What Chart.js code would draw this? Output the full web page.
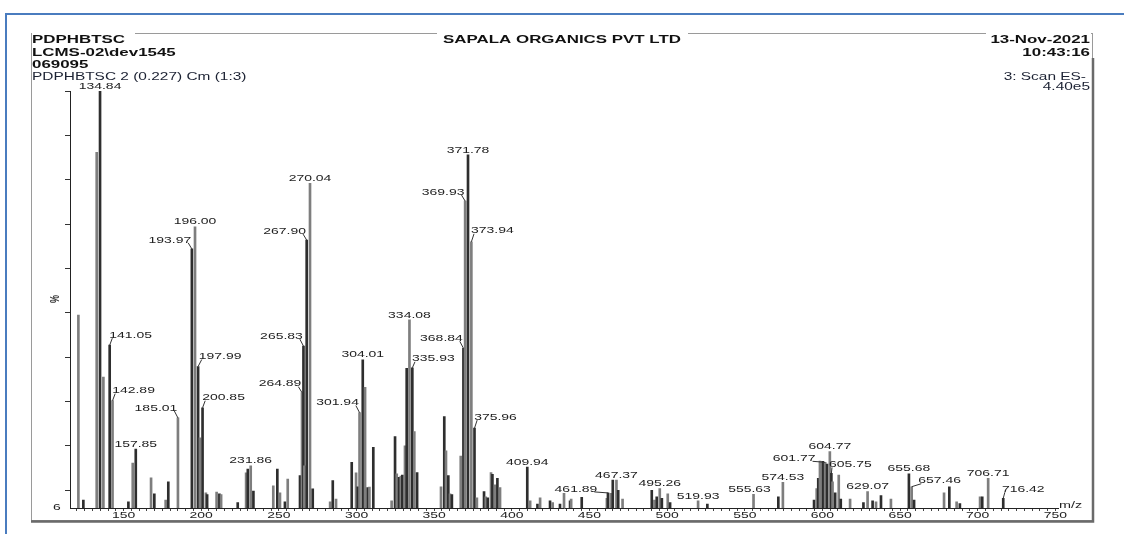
<!DOCTYPE html>
<html>
<head>
<meta charset="utf-8">
<script src="https://cdn.jsdelivr.net/npm/chart.js@4/dist/chart.umd.min.js"></script>
<style>
html, body { margin: 0; padding: 0; background: #fff; }
canvas { display: block; }
</style>
</head>
<body>
<canvas id="chart" width="1124" height="534"></canvas>
<script>
// spectrum peaks (m/z, % intensity)
var mzValues = [
    120.9, 124.1, 132.7, 134.84, 137.0, 141.05, 142.89, 153.1, 155.9, 157.85,
    167.7, 169.8, 177.1, 178.8, 185.01, 193.97, 196.00, 197.99, 199.2, 200.85,
    203.0, 203.8, 209.9, 211.7, 212.8, 223.5, 228.9, 230.0, 231.86, 233.6,
    246.4, 249.0, 250.7, 253.9, 255.7, 263.6, 264.89, 265.83, 266.4, 267.90,
    270.04, 271.8, 283.0, 284.7, 286.8, 296.9, 299.7, 300.8, 301.94, 304.01,
    305.5, 307.2, 308.3, 310.8, 322.6, 324.8, 325.9, 327.4, 328.5, 329.5,
    331.2, 332.3, 334.08, 335.93, 337.2, 339.0, 354.4, 356.5, 357.6, 359.1,
    360.2, 361.4, 367.1, 368.84, 369.93, 371.78, 373.94, 375.96, 377.5, 382.1,
    383.2, 384.5, 386.6, 387.5, 389.2, 390.7, 392.4, 409.94, 411.8, 416.5,
    418.2, 424.6, 426.3, 431.0, 433.6, 437.5, 438.2, 445.0, 461.2, 461.89,
    463.7, 465.0, 467.37, 468.5, 471.3, 490.1, 491.8, 493.3, 495.26, 496.6,
    500.4, 501.9, 519.93, 525.9, 555.63, 571.6, 574.53, 594.6, 596.3, 597.3,
    598.4, 600.2, 601.77, 603.0, 604.77, 605.75, 606.5, 608.2, 610.5, 611.8,
    617.8, 626.4, 629.07, 632.3, 634.5, 637.7, 644.1, 655.68, 657.46, 659.0,
    678.3, 681.7, 686.4, 688.5, 701.5, 702.9, 706.71, 716.42
];
var intensities = [
    49.5, 7.8, 86.2, 100, 35.5, 42.7, 30.2, 7.4, 16.1, 19.3,
    12.8, 9.2, 7.8, 11.9, 26.3, 64.4, 69.4, 37.9, 21.8, 28.6,
    9.4, 9.0, 9.6, 9.2, 9.0, 7.2, 13.9, 14.8, 15.5, 9.8,
    11.0, 14.8, 9.4, 7.4, 12.5, 13.3, 32.0, 42.5, 15.5, 66.4,
    79.2, 10.3, 7.4, 12.2, 8.0, 16.3, 13.9, 10.8, 27.5, 39.4,
    33.2, 10.6, 10.7, 19.7, 7.6, 22.1, 13.7, 12.9, 13.2, 13.4,
    20.0, 37.5, 48.4, 37.6, 23.2, 14.0, 10.8, 26.6, 18.9, 13.3,
    9.2, 9.0, 17.7, 42.0, 75.2, 85.6, 66.0, 24.0, 8.3, 9.7,
    8.5, 8.3, 14.0, 13.6, 11.2, 12.7, 10.6, 15.2, 7.6, 6.9,
    8.3, 7.6, 7.2, 6.9, 9.3, 7.6, 8.0, 8.4, 8.2, 9.4,
    9.3, 12.3, 12.3, 10.0, 8.0, 10.0, 7.8, 8.5, 10.4, 8.2,
    9.2, 7.2, 7.6, 6.9, 9.1, 8.5, 11.8, 7.8, 10.4, 12.7,
    16.6, 16.5, 16.3, 15.9, 18.7, 13.8, 11.9, 9.4, 13.4, 8.0,
    8.0, 7.2, 9.7, 7.6, 7.4, 8.8, 8.0, 13.7, 10.8, 7.8,
    9.4, 10.8, 7.4, 7.0, 8.5, 8.5, 12.7, 8.2
];
var labelledPeaks = [
    134.84, 141.05, 142.89, 157.85, 185.01, 193.97, 196.00, 197.99, 200.85, 231.86,
    264.89, 265.83, 267.90, 270.04, 301.94, 304.01, 334.08, 335.93, 368.84, 369.93,
    371.78, 373.94, 375.96, 409.94, 461.89, 467.37, 495.26, 519.93, 555.63, 574.53,
    601.77, 604.77, 605.75, 629.07, 655.68, 657.46, 706.71, 716.42
];
var xTickLabels = [150, 200, 250, 300, 350, 400, 450, 500, 550, 600, 650, 700, 750];
var yTickValues = [10, 20, 30, 40, 50, 60, 70, 80, 90, 100];
var headerLeft = ['PDPHBTSC', 'LCMS-02\\dev1545', '069095'];
var headerTitle = 'SAPALA ORGANICS PVT LTD';
var headerRight = ['13-Nov-2021', '10:43:16'];
var traceInfo = 'PDPHBTSC 2 (0.227) Cm (1:3)';
var scanInfo = ['3: Scan ES-', '4.40e5'];

// where each label sits relative to its peak top (text centre offset)
var labelOffsets = {
    '193.97': [-22, -9], '267.90': [-22, -9], '369.93': [-22, -9], '368.84': [-22, -10],
    '265.83': [-22, -10], '264.89': [-22, -9], '301.94': [-22, -10], '185.01': [-22, -10],
    '461.89': [-32, -4], '601.77': [-31, -4],
    '141.05': [21, -10], '142.89': [21, -10], '197.99': [22, -10], '200.85': [21, -10],
    '335.93': [21, -9], '373.94': [21, -11], '375.96': [21, -11], '605.75': [19, -9],
    '657.46': [28, -6], '716.42': [20, -9], '555.63': [-4, -5]
};

var SX = 1.47;
function wideText(ctx, txt, x, y, font, align, sx, color) {
    ctx.save();
    ctx.translate(x, y);
    ctx.scale(sx, 1);
    ctx.font = font;
    ctx.textAlign = align;
    ctx.textBaseline = 'middle';
    ctx.fillStyle = color || '#222';
    ctx.fillText(txt, 0, 0);
    ctx.restore();
}
function textWidth(ctx, txt, font, sx) {
    ctx.save();
    ctx.font = font;
    var w = ctx.measureText(txt).width * sx;
    ctx.restore();
    return w;
}

var framePlugin = {
    id: 'frame',
    beforeDraw: function (chart) {
        var ctx = chart.ctx;
        ctx.save();
        ctx.fillStyle = '#fff';
        ctx.fillRect(0, 0, chart.width, chart.height);
        // blue page frame
        ctx.strokeStyle = '#4a7cbf';
        ctx.lineWidth = 2;
        ctx.beginPath();
        ctx.moveTo(6, 534);
        ctx.lineTo(6, 14);
        ctx.lineTo(1124, 14);
        ctx.stroke();
        // grey plot box
        ctx.strokeStyle = '#9a9a9a';
        ctx.lineWidth = 1;
        ctx.strokeRect(31.5, 33.5, 1061, 487);
        ctx.strokeStyle = '#6a6a6a';
        ctx.lineWidth = 2.5;
        ctx.beginPath();
        ctx.moveTo(1093, 58);
        ctx.lineTo(1093, 521.5);
        ctx.lineTo(31, 521.5);
        ctx.stroke();
        // white backing behind header texts
        ctx.fillStyle = '#fff';
        ctx.fillRect(32, 30, 103, 8);
        ctx.fillRect(437, 30, 251, 8);
        ctx.fillRect(986, 30, 105, 8);
        ctx.restore();
    },
    afterDraw: function (chart) {
        var ctx = chart.ctx;
        var xs = chart.scales.x, ys = chart.scales.y;
        var bold = 'bold 11.5px "Liberation Sans", Arial, sans-serif';
        var norm = '10.5px "Liberation Sans", Arial, sans-serif';
        var rows = [40, 53, 64.5];
        headerLeft.forEach(function (t, i) {
            wideText(ctx, t, 32, rows[i], bold, 'left', SX, '#111');
        });
        wideText(ctx, headerTitle, 562, 40, bold, 'center', SX, '#111');
        headerRight.forEach(function (t, i) {
            wideText(ctx, t, 1090, rows[i], bold, 'right', SX, '#111');
        });
        wideText(ctx, traceInfo, 32, 77, norm, 'left', SX, '#1c2233');
        wideText(ctx, scanInfo[0], 1086, 77, norm, 'right', SX, '#1c2233');
        wideText(ctx, scanInfo[1], 1090, 87, norm, 'right', SX, '#1c2233');

        // axis texts
        var tickFont = '9px "Liberation Sans", Arial, sans-serif';
        xTickLabels.forEach(function (v) {
            wideText(ctx, String(v), xs.getPixelForValue(v), 516, tickFont, 'center', 1.55, '#222');
        });
        wideText(ctx, 'm/z', 1059, 506, '9px "Liberation Sans", Arial, sans-serif', 'left', 1.6, '#222');
        wideText(ctx, '6', 57, ys.getPixelForValue(ys.min) - 1, '9.5px "Liberation Sans", Arial, sans-serif', 'center', SX, '#222');
        ctx.save();
        ctx.translate(56, 299);
        ctx.rotate(-Math.PI / 2);
        ctx.scale(1, 1.4);
        ctx.font = 'bold 9px "Liberation Sans", Arial, sans-serif';
        ctx.textAlign = 'center';
        ctx.textBaseline = 'middle';
        ctx.fillStyle = '#333';
        ctx.fillText('%', 0, 0);
        ctx.restore();

        // peak labels
        var lblFont = '9.5px "Liberation Sans", Arial, sans-serif';
        labelledPeaks.forEach(function (m) {
            var i = mzValues.indexOf(m);
            if (i < 0) return;
            var px = xs.getPixelForValue(m);
            var py = ys.getPixelForValue(intensities[i]);
            var txt = m.toFixed(2);
            var off = labelOffsets[txt] || [0, -5];
            var lx = px + off[0], ly = py + off[1];
            wideText(ctx, txt, lx, ly, lblFont, 'center', SX, '#222');
            if (Math.abs(off[0]) > 6) {
                var w = textWidth(ctx, txt, lblFont, SX);
                var sx0 = off[0] < 0 ? lx + w / 2 - 3 : lx - w / 2 + 3;
                ctx.save();
                ctx.strokeStyle = '#333';
                ctx.lineWidth = 1;
                ctx.beginPath();
                ctx.moveTo(sx0, ly + 3);
                ctx.lineTo(px, py);
                ctx.stroke();
                ctx.restore();
            }
        });
    }
};

var minorTicks = [];
for (var t = 120; t <= 750; t += 5) minorTicks.push({ value: t });

var ctx = document.getElementById('chart').getContext('2d');
new Chart(ctx, {
    type: 'bar',
    data: {
        datasets: [{
            label: 'Scan ES-',
            data: mzValues.map(function (m, i) { return { x: m, y: intensities[i] }; }),
            backgroundColor: function (c) { return c.dataIndex % 2 ? '#2e2e2e' : '#7e7e7e'; },
            borderWidth: 0,
            barThickness: 2,
            grouped: false
        }]
    },
    options: {
        responsive: false,
        animation: false,
        devicePixelRatio: 1,
        layout: { padding: { left: 60, right: 65.5, top: 91, bottom: 16 } },
        plugins: { legend: { display: false }, tooltip: { enabled: false } },
        scales: {
            x: {
                type: 'linear',
                min: 115.5,
                max: 752,
                offset: false,
                afterBuildTicks: function (s) { s.ticks = minorTicks.slice(); },
                afterFit: function (s) { s.height = 10; },
                grid: { offset: false, drawOnChartArea: false, drawTicks: true, tickLength: 3, color: '#444' },
                border: { display: true, color: '#222', width: 1 },
                ticks: { display: false }
            },
            y: {
                min: 6,
                max: 100,
                afterBuildTicks: function (s) { s.ticks = yTickValues.map(function (v) { return { value: v }; }); },
                afterFit: function (s) { s.width = 10; },
                grid: { drawOnChartArea: false, drawTicks: true, tickLength: 5, color: '#333' },
                border: { display: true, color: '#222', width: 1 },
                ticks: { display: false }
            }
        }
    },
    plugins: [framePlugin]
});
</script>
</body>
</html>
